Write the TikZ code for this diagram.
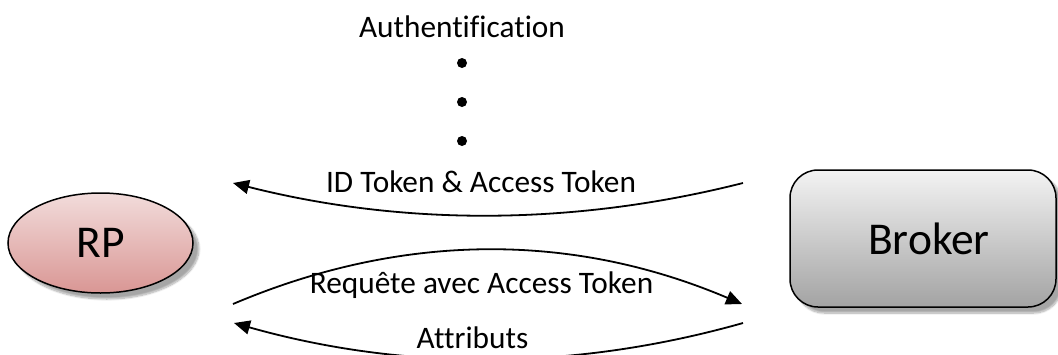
\documentclass[tikz,border=0pt]{standalone}
\usepackage{fontspec}
\setmainfont{Carlito}[Ligatures=NoCommon]
\usetikzlibrary{arrows.meta,calc,shapes.geometric,shadows.blur}
\definecolor{rptop}{RGB}{242,220,219}
\definecolor{rpbot}{RGB}{217,150,148}
\definecolor{brtop}{RGB}{243,243,243}
\definecolor{brbot}{RGB}{163,163,163}

\begin{document}
\begin{tikzpicture}[x=1pt,y=-1pt,
  party/.style={draw=black, line width=1.5pt, inner sep=0pt,
    font=\fontsize{45.5}{52}\selectfont,
    blur shadow={shadow xshift=6pt, shadow yshift=-6pt, shadow blur steps=10, shadow opacity=35}},
  lbl/.style={font=\fontsize{31.3}{37}\selectfont, anchor=base, inner sep=0pt},
  flow/.style={line width=1.8pt, -{Triangle[length=16pt,width=14pt]}},
  dot/.style={circle, fill=black, minimum size=10pt, inner sep=0pt}]
\useasboundingbox (0,0) rectangle (1058,354);
\clip (0,0) rectangle (1058,354);

% the two parties
\node[party, ellipse, minimum width=185pt, minimum height=100pt,
      top color=rptop, bottom color=rpbot] (rp) at (100.5,243) {RP};
\node[party, rectangle, rounded corners=28pt, minimum width=266pt, minimum height=137pt,
      top color=brtop, bottom color=brbot] (broker) at (923,238.5) {\hspace{12pt}Broker};

% authentication phase, elided
\node[lbl] (auth) at (462,37) {Authentification};
\node[dot] (d1) at (462,63) {};
\node[dot] (d2) at (462,102) {};
\node[dot] (d3) at (462,141) {};

% message end points
\coordinate (idS) at (743,183);
\coordinate (idE) at (233,183);
\coordinate (rqS) at (233,304);
\coordinate (rqE) at (742,304);
\coordinate (atS) at (743,323);
\coordinate (atE) at (234,323);

% tokens returned to the RP
\draw[flow] (idS) .. controls ($(idS)!1/3!(idE)+(0,43)$) and ($(idS)!2/3!(idE)+(0,43)$) .. (idE)
  node[lbl, pos=0.5, xshift=-7pt, yshift=23pt] (lid) {ID Token \& Access Token};

% request to the broker
\draw[flow] (rqS) .. controls ($(rqS)!1/3!(rqE)+(0,-72)$) and ($(rqS)!2/3!(rqE)+(0,-72)$) .. (rqE)
  node[lbl, pos=0.5, xshift=-6pt, yshift=-43pt] (lrq) {Requête avec Access Token};

% attributes returned
\draw[flow] (atS) .. controls ($(atS)!1/3!(atE)+(0,48)$) and ($(atS)!2/3!(atE)+(0,48)$) .. (atE)
  node[lbl, pos=0.5, xshift=-16pt, yshift=11pt] (lat) {Attributs};
\end{tikzpicture}
\end{document}
